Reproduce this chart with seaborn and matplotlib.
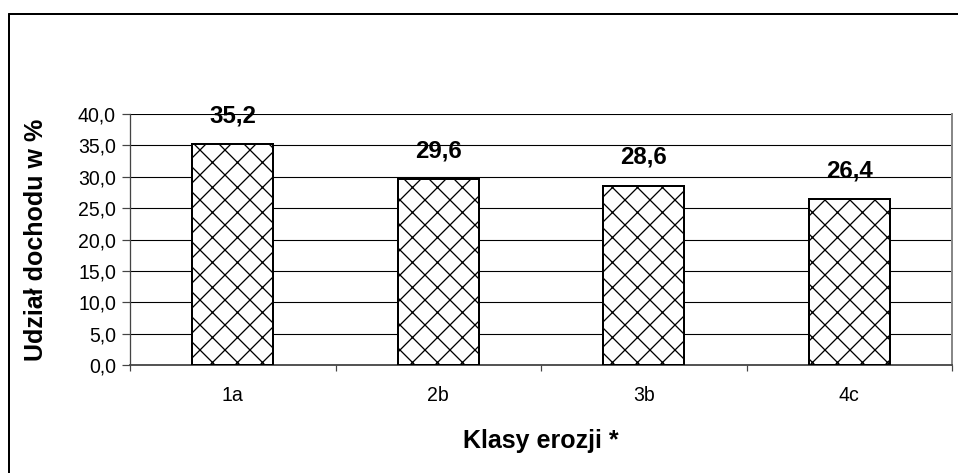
import matplotlib
matplotlib.use("Agg")
import matplotlib.pyplot as plt
import seaborn as sns
import pandas as pd
from matplotlib.lines import Line2D

categories = ["1a", "2b", "3b", "4c"]
values = [35.2, 29.6, 28.6, 26.4]
value_labels = ["35,2", "29,6", "28,6", "26,4"]
yticks = [0, 5, 10, 15, 20, 25, 30, 35, 40]
ytick_labels = ["0,0", "5,0", "10,0", "15,0", "20,0", "25,0", "30,0", "35,0", "40,0"]

DPI = 150
W, H = 958, 473


def pt(px):
    return px * 72.0 / DPI


sns.set_style("white")
plt.rcParams["font.family"] = ["Liberation Sans", "DejaVu Sans"]
plt.rcParams["text.color"] = "black"
plt.rcParams["axes.labelcolor"] = "black"
plt.rcParams["xtick.color"] = "black"
plt.rcParams["ytick.color"] = "black"
plt.rcParams["hatch.linewidth"] = pt(1.3)
plt.rcParams["hatch.color"] = "#1a1a1a"

df = pd.DataFrame({"klasa": categories, "udzial": values})

fig = plt.figure(figsize=(W / DPI, H / DPI), dpi=DPI)
ax = fig.add_axes([130 / W, 1 - 365 / H, (952 - 130) / W, (365 - 114) / H])

sns.barplot(data=df, x="klasa", y="udzial", ax=ax, color="white", width=0.395,
            edgecolor="black", linewidth=pt(2.0), saturation=1)
for p in ax.patches:
    p.set_hatch("xx")
    p.set_facecolor("white")
    p.set_edgecolor("black")
    p.set_zorder(3)

ax.set_xlim(-0.5, 3.5)
ax.set_ylim(0, 40)
ax.set_yticks(yticks)
ax.set_yticklabels(ytick_labels, fontsize=pt(19.5))
ax.yaxis.grid(True, color="black", linewidth=pt(1.1))
ax.set_axisbelow(True)
ax.tick_params(axis="y", direction="out", length=pt(8), width=pt(1.2), color="#444444",
               pad=pt(6), left=True, labelcolor="black")
ax.tick_params(axis="x", which="major", length=0, pad=pt(21), labelsize=pt(19.5), labelcolor="black")
ax.set_xticks([-0.5, 0.5, 1.5, 2.5, 3.5], minor=True)
ax.tick_params(axis="x", which="minor", direction="out", length=pt(6), width=pt(1.2),
               color="#444444", bottom=True)

ax.spines["top"].set_visible(False)
ax.spines["left"].set_color("#444444")
ax.spines["left"].set_linewidth(pt(1.3))
ax.spines["bottom"].set_color("#444444")
ax.spines["bottom"].set_linewidth(pt(1.8))
ax.spines["right"].set_color("#888888")
ax.spines["right"].set_linewidth(pt(2))

for i, (v, lab) in enumerate(zip(values, value_labels)):
    ax.annotate(lab, (i, v), xytext=(0, pt(17)), textcoords="offset points",
                ha="center", va="bottom", fontsize=pt(24), fontweight="bold")

ax.set_xlabel("Klasy erozji *", fontsize=pt(25), fontweight="bold", labelpad=pt(24))
ax.set_ylabel("Udział dochodu w %", fontsize=pt(25), fontweight="bold", labelpad=pt(30))

# outer chart border (top & left visible)
fig.add_artist(Line2D([9 / W, 1.0], [1 - 14 / H, 1 - 14 / H], color="black", linewidth=pt(2)))
fig.add_artist(Line2D([9 / W, 9 / W], [0.0, 1 - 14 / H], color="black", linewidth=pt(2)))

fig.savefig("out.png", dpi=DPI)
